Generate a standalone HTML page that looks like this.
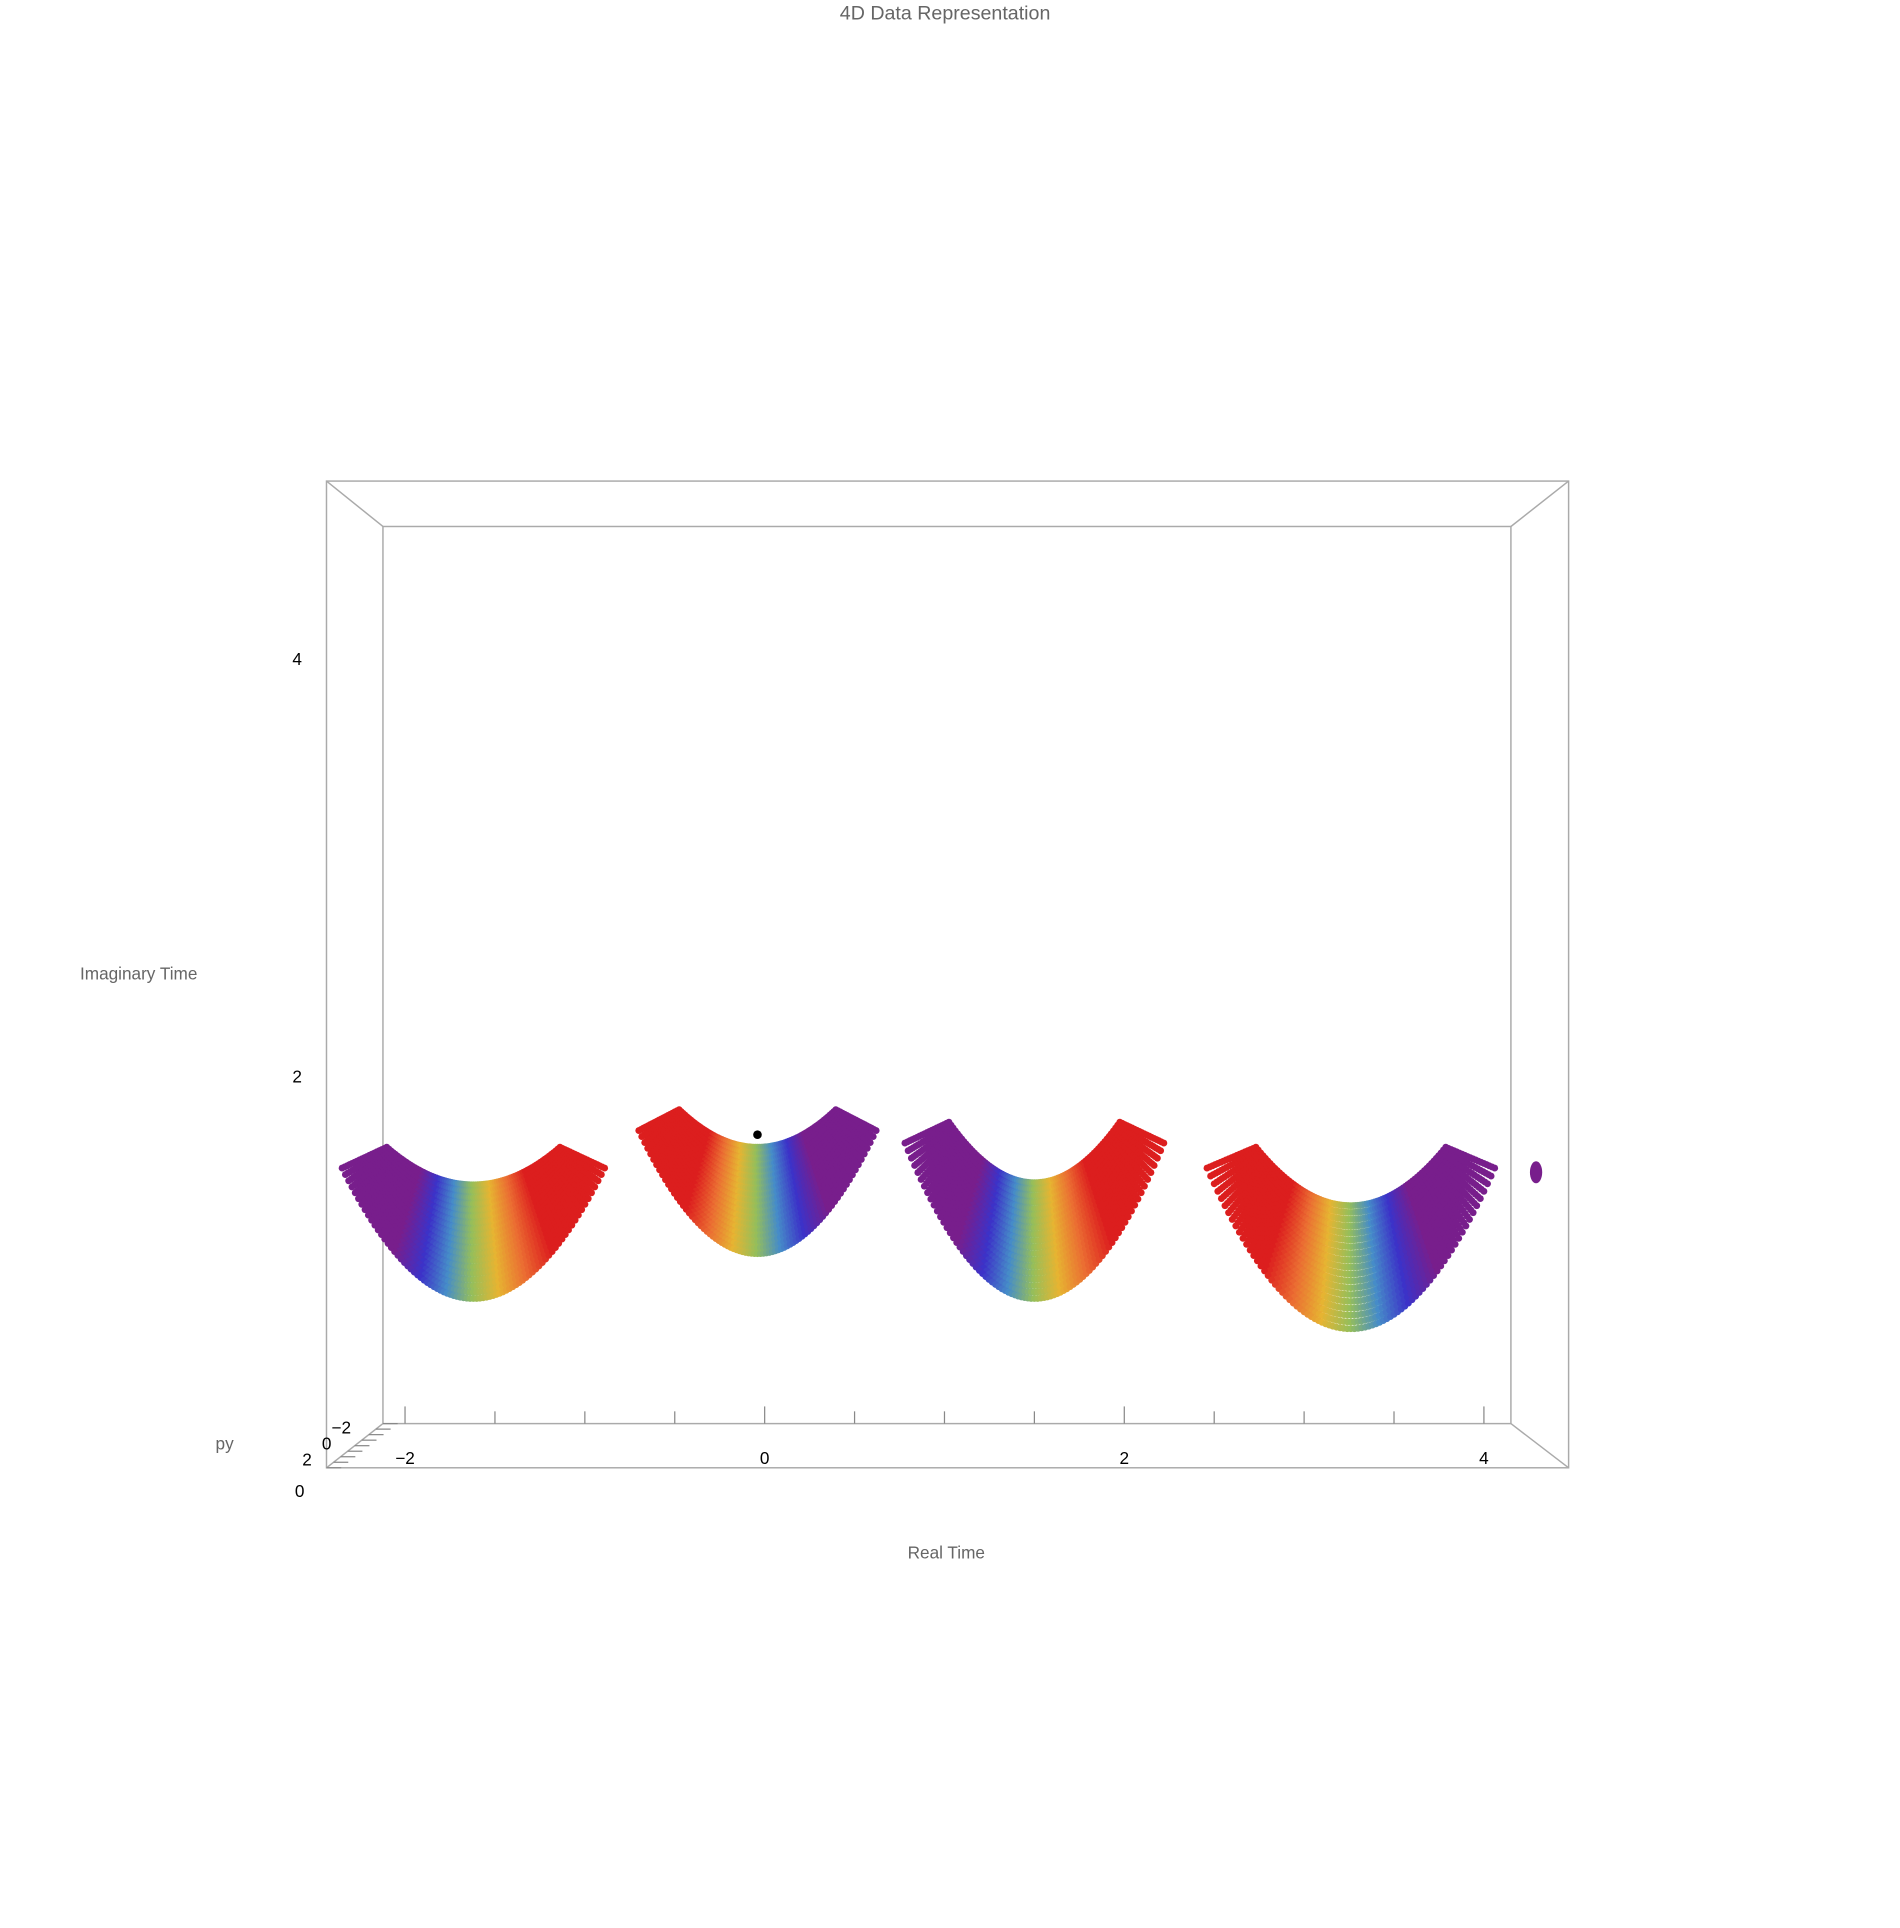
<!DOCTYPE html>
<html><head><meta charset="utf-8"><style>
html,body{margin:0;padding:0;background:#fff;}
svg{display:block;font-family:"Liberation Sans",sans-serif;}
</style></head><body>
<svg id="chart" width="1900" height="1928" viewBox="0 0 1548 1571" preserveAspectRatio="none">
<text x="770" y="16" text-anchor="middle" font-size="16" fill="#666">4D Data Representation</text>
<g stroke="#aaa" fill="none" stroke-width="1.2">
<rect x="266" y="392" width="1012" height="804"/>
<rect x="312" y="429" width="919" height="731"/>
<line x1="266" y1="392" x2="312" y2="429"/><line x1="1278" y1="392" x2="1231" y2="429"/>
<line x1="266" y1="1196" x2="312" y2="1160"/><line x1="1278" y1="1196" x2="1231" y2="1160"/>
</g>
<g id="ticks" stroke="#888" stroke-width="1"></g>
<g id="labels" font-size="14" fill="#000"></g>
<text x="113" y="798" text-anchor="middle" font-size="14" fill="#666">Imaginary Time</text>
<text x="771" y="1270" text-anchor="middle" font-size="14" fill="#666">Real Time</text>
<text x="183" y="1181" text-anchor="middle" font-size="14" fill="#666">py</text>
<g id="marks"></g>
</svg>
<script>
const xTicks=[-2,0,2,4];
const yTicks=[2,4];
const zTickLabels=["-2","0","2"];
const bandCenter=[-1.62,-0.04,1.5,3.26];
const bandBottom=[0.935,1.15,0.935,0.79];
const bandInnerBottom=[1.48,1.66,1.49,1.38];
const bandTop=[1.66,1.84,1.78,1.66];
const bandHalfWidth=[0.73,0.66,0.72,0.8];
const bandColorDir=[1,-1,1,-1];
const markerX=[-0.04];
const markerY=[1.72];
const blobX=[4.29];
const blobY=[1.54];
const NS="http://www.w3.org/2000/svg";
const X=v=>623+146.5*v, Y=v=>1217-170*v;
function mk(tag,attrs,parent){const e=document.createElementNS(NS,tag);for(const k in attrs)e.setAttribute(k,attrs[k]);parent.appendChild(e);return e;}
const tg=document.getElementById('ticks'), lg=document.getElementById('labels'), mg=document.getElementById('marks');
for(let v=-2;v<=4.01;v+=0.5){const maj=Math.abs(v-Math.round(v/2)*2)<1e-6;
 const l=mk('line',{x1:X(v),x2:X(v),y1:maj?1146:1150,y2:1160},tg);
 
 }
xTicks.forEach(v=>{const t=mk('text',{x:X(v),y:1193,'text-anchor':'middle'},lg);t.textContent=v<0?'\u2212'+(-v):v;
 
 });
yTicks.forEach(v=>{const t=mk('text',{x:246,y:Y(v)+5,'text-anchor':'end'},lg);t.textContent=v;
 
 });
const y0=mk('text',{x:248,y:1220,'text-anchor':'end'},lg);y0.textContent='0';


for(let i=0;i<9;i++){const f=i/8;const x=266+46*f,y=1196-36*f;
 const l=mk('line',{x1:x,y1:y,x2:x+12,y2:y},tg);
 
 }
const zpos=[[286,1168],[270,1181],[254,1194]];
zTickLabels.forEach((s,i)=>{const t=mk('text',{x:zpos[i][0],y:zpos[i][1],'text-anchor':'end'},lg);t.textContent=s.replace('-','\u2212');
 
 });
function col(c){c=Math.min(1,Math.max(0,(c-0.2)/0.6));
 const stops=[[120,30,140],[60,50,200],[70,140,200],[150,190,90],[230,180,50],[235,110,50],[220,30,30]];
 const p=c*(stops.length-1),i=Math.min(stops.length-2,Math.floor(p)),f=p-i;
 const a=stops[i],b=stops[i+1];return `rgb(${a.map((v,j)=>Math.round(v+(b[j]-v)*f)).join(',')})`;}
bandCenter.forEach((cx,b)=>{
 const g=mk('g',{},mg);
 
 
 for(let r=0;r<=18;r++){const k=r/18;
  const hw=bandHalfWidth[b]*(0.66+0.34*k);
  const bot=bandInnerBottom[b]+(bandBottom[b]-bandInnerBottom[b])*k;
  const top=bandTop[b]-0.1*k;
  for(let j=0;j<=80;j++){const u=-1+2*j/80;
   const xv=cx+hw*u;
   const yv=top-(top-bot)*(1-u*u);
   const c=(bandColorDir[b]*u+1)/2;
   mk('circle',{cx:X(xv),cy:Y(yv),r:2.8,fill:col(c)},g);}}
});
markerX.forEach((v,i)=>{const c=mk('circle',{cx:X(v),cy:Y(markerY[i]),r:3.5,fill:'#000'},mg);
 
 });
blobX.forEach((v,i)=>{const c=mk('ellipse',{cx:X(v),cy:Y(blobY[i]),rx:5,ry:9,fill:'rgb(120,30,140)'},mg);
 
 });
</script>
</body></html>
